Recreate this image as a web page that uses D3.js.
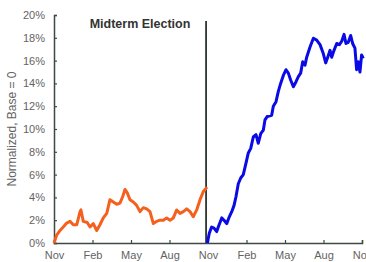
<!DOCTYPE html>
<html>
<head>
<meta charset="utf-8">
<script src="https://cdn.jsdelivr.net/npm/d3@7"></script>
<style>
body { margin: 0; background: #fff; }
text { font-family: "Liberation Sans", Arial, sans-serif; }
</style>
</head>
<body>
<div id="chart"></div>
<script>
// months since the first November, value in %
var preMonths = [0, 0.21, 0.47, 0.72, 0.99, 1.25, 1.5, 1.77, 2.03, 2.1, 2.28, 2.59, 2.81, 3.06, 3.33, 3.58, 3.84, 4.11, 4.36, 4.62, 4.89, 5.14, 5.35, 5.53, 5.71, 5.92, 6.18, 6.44, 6.7, 6.96, 7.22, 7.48, 7.74, 8, 8.26, 8.52, 8.78, 9.04, 9.3, 9.56, 9.82, 10.08, 10.34, 10.6, 10.85, 11.12, 11.38, 11.63, 11.92];
var preValues = [0, 0.7, 1.1, 1.4, 1.75, 1.9, 1.6, 1.6, 2.75, 2.9, 1.9, 1.8, 1.4, 1.7, 1.1, 1.6, 2.2, 2.6, 3.8, 3.6, 3.4, 3.5, 4.06, 4.7, 4.4, 3.8, 3.6, 3.3, 2.75, 3.1, 3.0, 2.75, 1.7, 1.9, 2.0, 2.0, 2.2, 2.0, 2.2, 2.9, 2.6, 2.75, 3.0, 2.75, 2.3, 2.9, 3.8, 4.5, 4.9];

var postMonths = [11.95, 12.1, 12.28, 12.47, 12.68, 12.8, 13.07, 13.25, 13.46, 13.66, 13.85, 14.03, 14.18, 14.36, 14.55, 14.75, 14.96, 15.14, 15.33, 15.53, 15.74, 15.92, 16.11, 16.31, 16.44, 16.62, 16.96, 17.09, 17.3, 17.48, 17.66, 17.87, 18.08, 18.26, 18.44, 18.65, 18.86, 19.04, 19.22, 19.38, 19.56, 19.69, 19.95, 20.21, 20.47, 20.73, 20.99, 21.17, 21.33, 21.51, 21.64, 21.82, 22.03, 22.24, 22.42, 22.6, 22.75, 22.93, 23.12, 23.27, 23.45, 23.58, 23.71, 23.84, 23.97, 24.1];
var postValues = [0, 0.85, 1.4, 1.3, 1.0, 1.4, 2.2, 2.0, 1.7, 2.3, 2.75, 3.3, 4.06, 5.2, 5.7, 6.0, 7.0, 7.9, 8.3, 9.3, 9.5, 8.75, 9.6, 9.9, 10.8, 11.1, 11.2, 12.0, 12.4, 13.3, 14.0, 14.7, 15.2, 14.9, 14.3, 13.7, 14.15, 14.6, 14.9, 15.9, 15.6, 16.3, 17.2, 17.96, 17.8, 17.4, 16.6, 15.8, 16.3, 16.9, 16.3, 16.9, 17.5, 17.4, 17.7, 18.3, 17.5, 17.6, 18.2, 17.5, 17.1, 15.2, 15.9, 15.0, 16.5, 16.2];

var xTickMonths = [0, 3, 6, 9, 12, 15, 18, 21, 24];
var xTickLabels = ["Nov", "Feb", "May", "Aug", "Nov", "Feb", "May", "Aug", "Nov"];
var yTicks = [0, 2, 4, 6, 8, 10, 12, 14, 16, 18, 20];
var electionMonth = 11.85;

var width = 366, height = 262;
var margin = {top: 15, right: 4, bottom: 19, left: 54};

var svg = d3.select("#chart").append("svg")
    .attr("width", width)
    .attr("height", height);

var x = d3.scaleLinear()
    .domain([0, 24])
    .range([margin.left, 362]);

var y = d3.scaleLinear()
    .domain([0, 20])
    .range([243, margin.top]);

var axisColor = "#3d4a43";
var labelColor = "#636363";

// x axis
var xAxis = svg.append("g")
    .attr("transform", "translate(0," + y(0) + ")")
    .call(d3.axisBottom(x)
        .tickValues(xTickMonths)
        .tickFormat(function(d, i) { return xTickLabels[i]; })
        .tickSize(-3)
        .tickPadding(8));
xAxis.select(".domain").attr("stroke", axisColor).attr("stroke-width", 1.5);
xAxis.selectAll(".tick line").attr("stroke", axisColor).attr("stroke-width", 1.2);
xAxis.selectAll(".tick text")
    .attr("fill", labelColor)
    .style("font-size", "11px")
    .style("font-family", "Liberation Sans, Arial, sans-serif");

// y axis
var yAxis = svg.append("g")
    .attr("transform", "translate(" + margin.left + ",0)")
    .call(d3.axisLeft(y)
        .tickValues(yTicks)
        .tickFormat(function(d) { return d + "%"; })
        .tickSize(-3)
        .tickPadding(9));
yAxis.select(".domain").attr("stroke", axisColor).attr("stroke-width", 1.5);
yAxis.selectAll(".tick line").attr("stroke", axisColor).attr("stroke-width", 1.2);
yAxis.selectAll(".tick text")
    .attr("fill", labelColor)
    .style("font-size", "11px")
    .style("font-family", "Liberation Sans, Arial, sans-serif");

// y title
svg.append("text")
    .attr("transform", "translate(16," + 129 + ") rotate(-90)")
    .attr("text-anchor", "middle")
    .attr("fill", labelColor)
    .style("font-size", "12px")
    .text("Normalized, Base = 0");

// election line
svg.append("line")
    .attr("x1", x(electionMonth))
    .attr("x2", x(electionMonth))
    .attr("y1", 21)
    .attr("y2", y(0))
    .attr("stroke", "#2b3530")
    .attr("stroke-width", 1.8);

svg.append("text")
    .attr("x", 140)
    .attr("y", 28)
    .attr("text-anchor", "middle")
    .attr("fill", "#333")
    .style("font-size", "12.5px")
    .style("font-weight", "bold")
    .text("Midterm Election");

var line = d3.line()
    .x(function(d) { return x(d[0]); })
    .y(function(d) { return y(d[1]); });

svg.append("path")
    .datum(d3.zip(preMonths, preValues))
    .attr("fill", "none")
    .attr("stroke", "#f5601e")
    .attr("stroke-width", 3)
    .attr("stroke-linejoin", "round")
    .attr("d", line);

svg.append("path")
    .datum(d3.zip(postMonths, postValues))
    .attr("fill", "none")
    .attr("stroke", "#0a0ae6")
    .attr("stroke-width", 3)
    .attr("stroke-linejoin", "round")
    .attr("d", line);
</script>
</body>
</html>
